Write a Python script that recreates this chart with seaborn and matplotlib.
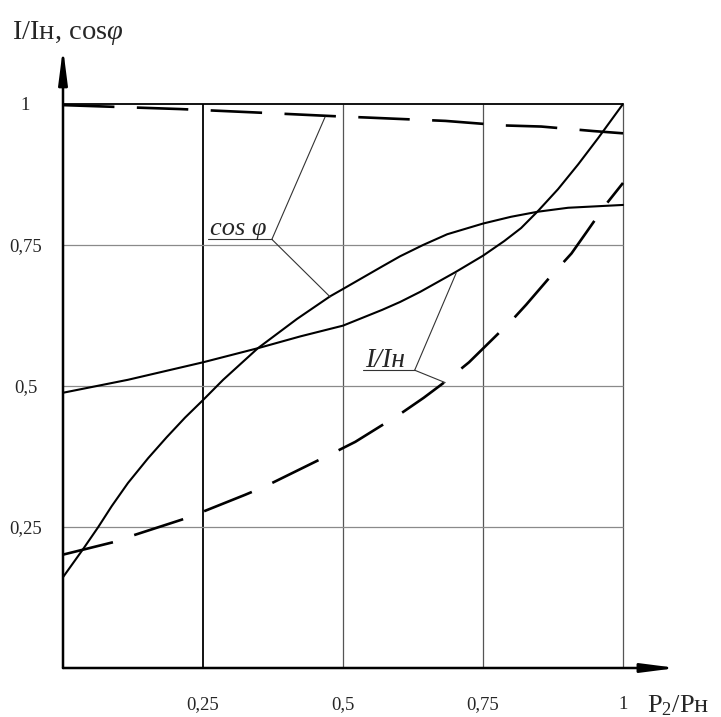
import matplotlib
matplotlib.use("Agg")
import pandas as pd
import matplotlib.pyplot as plt
import seaborn as sns

# curves, x = P2/Pн
cos_dash_x = [0.0, 0.209, 0.343, 0.492, 0.542, 0.683, 0.786, 0.854, 0.947, 1.0]
cos_dash_y = [0.998, 0.991, 0.985, 0.978, 0.976, 0.970, 0.962, 0.960, 0.952, 0.948]

cos_solid_x = [0.0, 0.036, 0.063, 0.087, 0.116, 0.152, 0.185, 0.218, 0.25, 0.286,
               0.348, 0.418, 0.477, 0.5, 0.570, 0.602, 0.643, 0.686, 0.75, 0.8,
               0.848, 0.902, 1.0]
cos_solid_y = [0.161, 0.211, 0.25, 0.287, 0.328, 0.372, 0.409, 0.444, 0.475, 0.511,
               0.567, 0.619, 0.659, 0.672, 0.712, 0.730, 0.750, 0.769, 0.788, 0.800,
               0.809, 0.816, 0.821]

i_solid_x = [0.0, 0.116, 0.25, 0.348, 0.424, 0.5, 0.570, 0.602, 0.638, 0.701, 0.75,
             0.788, 0.818, 0.848, 0.884, 0.92, 0.956, 1.0]
i_solid_y = [0.488, 0.511, 0.542, 0.567, 0.588, 0.607, 0.635, 0.649, 0.667, 0.702, 0.731,
             0.757, 0.780, 0.810, 0.849, 0.893, 0.94, 1.0]

i_dash_x = [0.0, 0.0895, 0.125, 0.212, 0.242, 0.325, 0.361, 0.447, 0.484, 0.522,
            0.603, 0.644, 0.683, 0.725, 0.803, 0.827, 0.866, 0.908, 0.935, 0.968, 1.0]
i_dash_y = [0.201, 0.223, 0.235, 0.263, 0.274, 0.307, 0.322, 0.364, 0.382, 0.401,
            0.451, 0.479, 0.508, 0.542, 0.618, 0.644, 0.689, 0.735, 0.773, 0.82, 0.86]

grid_ticks = [0.25, 0.5, 0.75, 1.0]
x_tick_labels = ["0,25", "0,5", "0,75", "1"]
y_tick_labels = ["0,25", "0,5", "0,75", "1"]


def frame(x, y, name, kind):
    return pd.DataFrame({"P": x, "val": y, "curve": name, "kind": kind})


df = pd.concat([
    frame(cos_dash_x, cos_dash_y, "cos_dash", "dashed"),
    frame(cos_solid_x, cos_solid_y, "cos_solid", "solid"),
    frame(i_solid_x, i_solid_y, "i_solid", "solid"),
    frame(i_dash_x, i_dash_y, "i_dash", "dashed"),
], ignore_index=True)

sns.set_theme(style="white")
plt.rcParams["font.family"] = ["Liberation Serif", "DejaVu Serif"]
plt.rcParams["mathtext.fontset"] = "custom"
plt.rcParams["mathtext.rm"] = "Liberation Serif"
plt.rcParams["mathtext.it"] = "Liberation Serif:italic"

fig = plt.figure(figsize=(7.21, 7.17), dpi=100)
ax = fig.add_axes([63 / 721, 49 / 717, 627.2 / 721, 631.7 / 717])
ax.set_xlim(0, 1.12)
ax.set_ylim(0, 1.12)
for s in ax.spines.values():
    s.set_visible(False)

# grid only inside the unit square
ax.vlines(grid_ticks, 0, 1, colors=["black", "#555555", "#555555", "#555555"],
          linewidths=[1.3, 0.9, 0.9, 0.9])
ax.hlines(grid_ticks, 0, 1, colors=["#8a8a8a", "#8a8a8a", "#8a8a8a", "black"],
          linewidths=[0.9, 0.9, 0.9, 1.3])

sns.lineplot(data=df, x="P", y="val", units="curve", estimator=None, sort=False,
             style="kind", size="kind", sizes={"solid": 1.5, "dashed": 1.9},
             dashes={"solid": "", "dashed": (19.5, 8.5)}, color="black",
             legend=False, ax=ax)

# axes with arrows
arrow = dict(arrowstyle="-|>,head_length=1.4,head_width=0.18", lw=1.8,
             color="black", shrinkA=0, shrinkB=0, mutation_scale=15)
ax.annotate("", xy=(1.096, 0), xytext=(0, 0), arrowprops=arrow, annotation_clip=False)
ax.annotate("", xy=(0, 1.099), xytext=(0, 0), arrowprops=arrow, annotation_clip=False)

ax.set_xticks(grid_ticks, x_tick_labels)
ax.set_yticks(grid_ticks, y_tick_labels)
ax.tick_params(length=0, labelsize=13.5)
ax.tick_params(axis="x", pad=20)
ax.tick_params(axis="y", pad=27)
for lab in ax.get_yticklabels():
    lab.set_ha("center")
ax.set_xlabel("")
ax.set_ylabel("")

ax.text(-0.091, 1.115, "I/Iн, cos$\\varphi$", fontsize=20.5, va="baseline",
        ha="left", clip_on=False)
ax.text(1.042, -0.079, "P$_2$/Pн", fontsize=19, va="baseline", ha="left",
        clip_on=False)

# callouts
lead = dict(arrowstyle="-", lw=0.8, color="#333333", shrinkA=0, shrinkB=0)
ax.text(0.263, 0.768, "cos φ", fontsize=19, style="italic", va="baseline")
ax.plot([0.259, 0.373], [0.760, 0.760], color="#333333", lw=0.8)
ax.annotate("", xy=(0.468, 0.977), xytext=(0.373, 0.760), arrowprops=lead)
ax.annotate("", xy=(0.477, 0.658), xytext=(0.373, 0.760), arrowprops=lead)

ax.text(0.540, 0.534, "I/Iн", fontsize=20, style="italic", va="baseline")
ax.plot([0.535, 0.628], [0.528, 0.528], color="#333333", lw=0.8)
ax.annotate("", xy=(0.702, 0.700), xytext=(0.628, 0.528), arrowprops=lead)
ax.annotate("", xy=(0.6825, 0.506), xytext=(0.628, 0.528), arrowprops=lead)

plt.savefig("out.png", dpi=100)
plt.close()
